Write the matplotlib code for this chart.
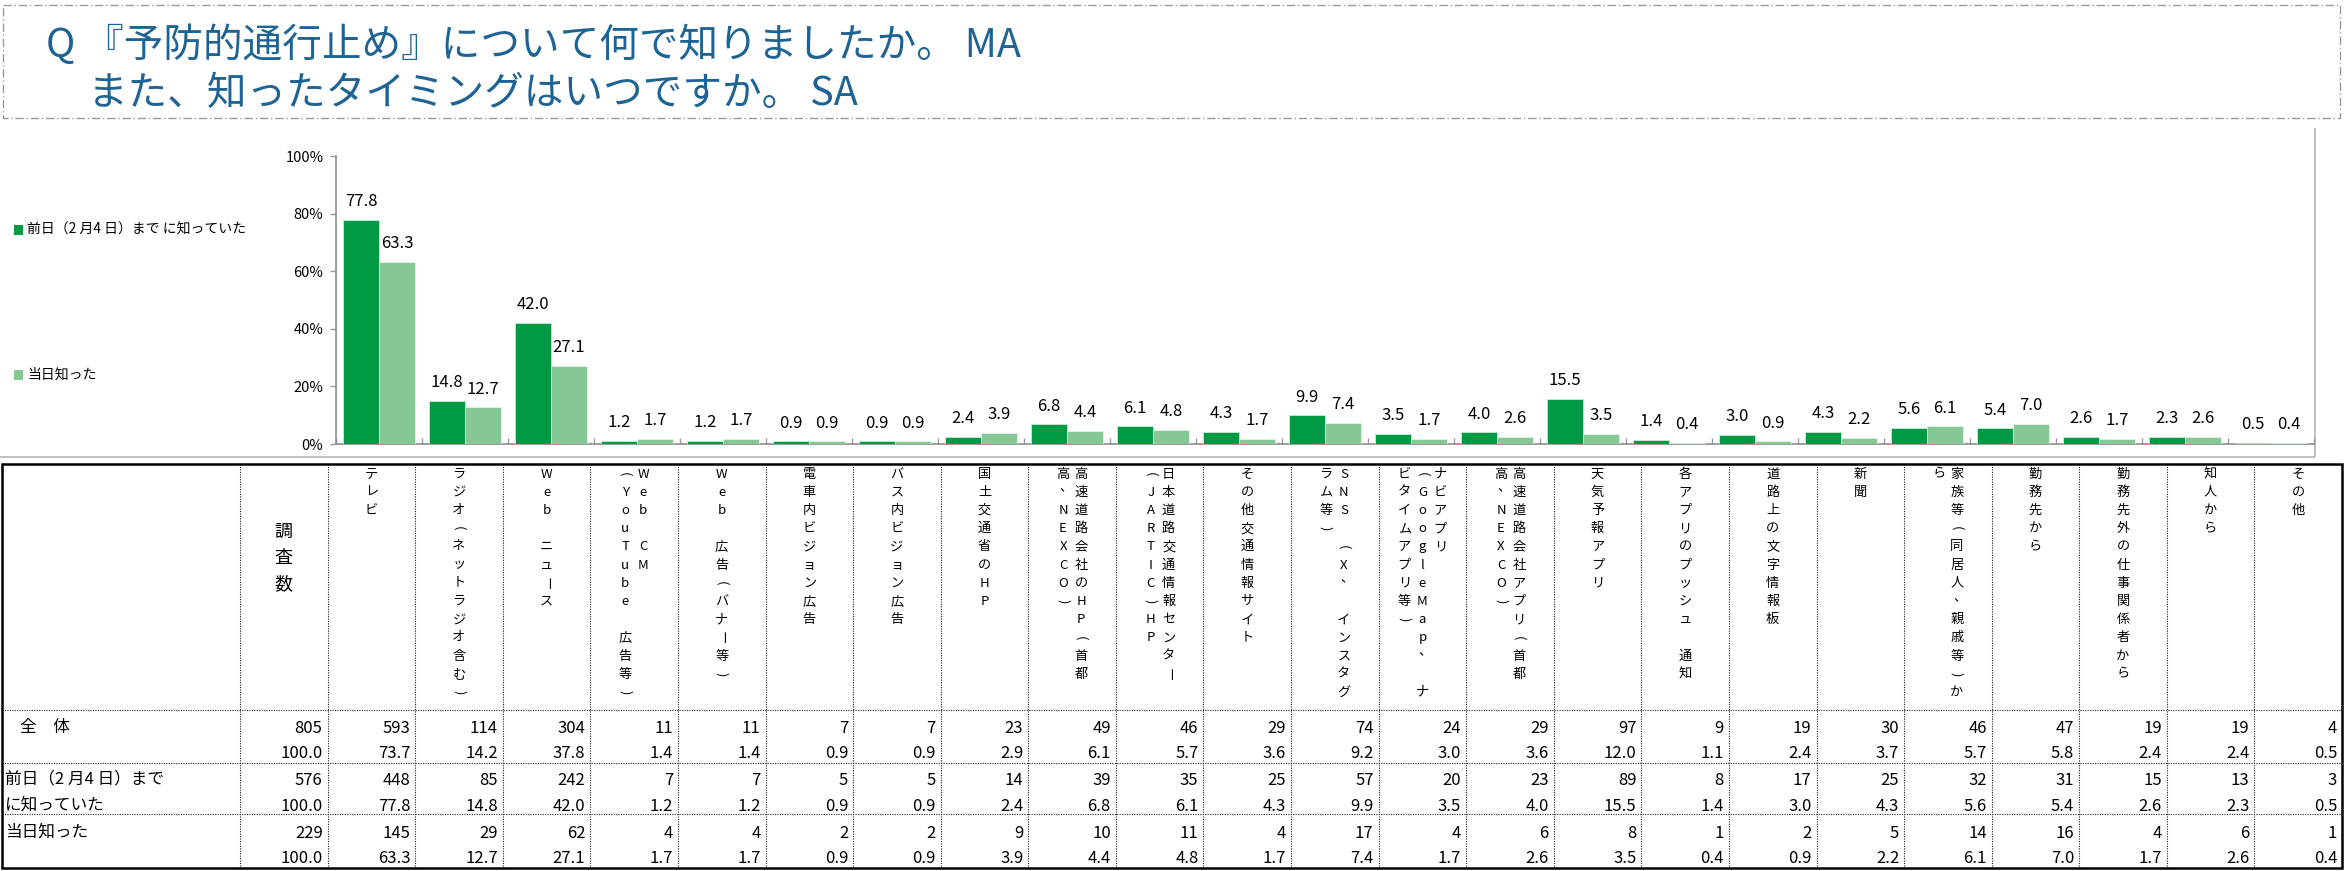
import matplotlib
matplotlib.use('Agg')
import matplotlib.pyplot as plt
from matplotlib.patches import Rectangle
import numpy as np

plt.rcParams['font.family'] = ['Noto Sans CJK JP', 'DejaVu Sans']

W, H = 2347, 871
TITLE_COLOR = '#1d6394'
DARK = '#009a44'
LIGHT = '#86c796'

# ---- data ----
title_lines = ['Q 『予防的通行止め』について何で知りましたか。 MA',
               'また、知ったタイミングはいつですか。 SA']
legend_labels = ['前日（2 月4 日）まで に知っていた', '当日知った']

# header text of each column, one string per vertical line (right to left)
headers = [
    ['テレビ'],
    ['ラジオ（ネットラジオ含む）'],
    ['Web　ニュース'],
    ['Web　CM', '（YouTube　広告等）'],
    ['Web　広告（バナー等）'],
    ['電車内ビジョン広告'],
    ['バス内ビジョン広告'],
    ['国土交通省のHP'],
    ['高速道路会社のHP（首都', '高、NEXCO）'],
    ['日本道路交通情報センター', '（JARTIC）HP'],
    ['その他交通情報サイト'],
    ['SNS　（X、　インスタグ', 'ラム等）'],
    ['ナビアプリ', '（GoogleMap、　ナ', 'ビタイムアプリ等）'],
    ['高速道路会社アプリ（首都', '高、NEXCO）'],
    ['天気予報アプリ'],
    ['各アプリのプッシュ　通知'],
    ['道路上の文字情報板'],
    ['新聞'],
    ['家族等（同居人、親戚等）か', 'ら'],
    ['勤務先から'],
    ['勤務先外の仕事関係者から'],
    ['知人から'],
    ['その他'],
]
base_label = '調査数'
row_labels = [['全　体'], ['前日（2 月4 日）まで', 'に知っていた'], ['当日知った']]
base_n = [805, 576, 229]

total_n = [593, 114, 304, 11, 11, 7, 7, 23, 49, 46, 29, 74, 24, 29, 97, 9, 19, 30, 46, 47, 19, 19, 4]
total_pct = [73.7, 14.2, 37.8, 1.4, 1.4, 0.9, 0.9, 2.9, 6.1, 5.7, 3.6, 9.2, 3.0, 3.6, 12.0,
             1.1, 2.4, 3.7, 5.7, 5.8, 2.4, 2.4, 0.5]
before_n = [448, 85, 242, 7, 7, 5, 5, 14, 39, 35, 25, 57, 20, 23, 89, 8, 17, 25, 32, 31, 15, 13, 3]
before_pct = [77.8, 14.8, 42.0, 1.2, 1.2, 0.9, 0.9, 2.4, 6.8, 6.1, 4.3, 9.9, 3.5, 4.0, 15.5,
              1.4, 3.0, 4.3, 5.6, 5.4, 2.6, 2.3, 0.5]
today_n = [145, 29, 62, 4, 4, 2, 2, 9, 10, 11, 4, 17, 4, 6, 8, 1, 2, 5, 14, 16, 4, 6, 1]
today_pct = [63.3, 12.7, 27.1, 1.7, 1.7, 0.9, 0.9, 3.9, 4.4, 4.8, 1.7, 7.4, 1.7, 2.6, 3.5,
             0.4, 0.9, 2.2, 6.1, 7.0, 1.7, 2.6, 0.4]
yticks = [0, 20, 40, 60, 80, 100]

fig = plt.figure(figsize=(W / 100, H / 100), dpi=100)

# background axes in pixel coordinates (y down)
bg = fig.add_axes([0, 0, 1, 1])
bg.set_xlim(0, W); bg.set_ylim(H, 0); bg.axis('off')


def line(x0, y0, x1, y1, **kw):
    bg.plot([x0, x1], [y0, y1], solid_capstyle='butt', clip_on=False, **kw)


# ---- title box ----
bg.add_patch(Rectangle((3, 5), 2337, 113, fill=False, ec='#9a9a9a', lw=1.0,
                       ls=(0, (6, 2, 1, 2))))
bg.text(46, 46, title_lines[0], fontsize=28.5, color=TITLE_COLOR, va='center', ha='left')
bg.text(88, 94, title_lines[1], fontsize=28.5, color=TITLE_COLOR, va='center', ha='left')

# ---- chart object frame ----
line(0, 457, 2315, 457, color='#b4b4b4', lw=1.2)
line(2315, 128, 2315, 457, color='#b4b4b4', lw=1.2)

# ---- legend ----
for (ly, lab, col) in [(230, legend_labels[0], DARK), (375, legend_labels[1], LIGHT)]:
    bg.add_patch(Rectangle((14, ly - 5), 9, 10, fc=col, ec='none'))
    bg.text(27, ly, lab, fontsize=10, va='center', ha='left')

# ---- bar chart ----
x0, x1, y0, y1 = 336, 2314, 444, 156
ax = fig.add_axes([x0 / W, 1 - y0 / H, (x1 - x0) / W, (y0 - y1) / H])
ax.patch.set_alpha(0)
x = np.arange(len(headers))
bw = 0.42
ax.bar(x - bw / 2, before_pct, bw, color=DARK, ec='#cfe9d6', lw=0.6, zorder=3)
ax.bar(x + bw / 2, today_pct, bw, color=LIGHT, ec='#e3f2e6', lw=0.6, zorder=3)
for xi, v in zip(x - bw / 2, before_pct):
    ax.annotate(f'{v:.1f}', (xi, v), xytext=(0, 10), textcoords='offset points',
                ha='center', va='baseline', fontsize=12)
for xi, v in zip(x + bw / 2, today_pct):
    ax.annotate(f'{v:.1f}', (xi, v), xytext=(0, 10), textcoords='offset points',
                ha='center', va='baseline', fontsize=12)
ax.set_xlim(-0.5, len(headers) - 0.5)
ax.set_ylim(0, 100)
ax.set_yticks(yticks)
ax.set_yticklabels([f'{t}%' for t in yticks], fontsize=10.5)
ax.set_xticks([])
ax.set_xticks(np.arange(-0.5, len(headers)), minor=True)
ax.tick_params(axis='x', which='minor', direction='in', length=4, color='#9a9a9a', width=1)
ax.tick_params(axis='y', direction='out', length=4, color='#9a9a9a', width=1, pad=5)
for s in ['top', 'right']:
    ax.spines[s].set_visible(False)
for s in ['left', 'bottom']:
    ax.spines[s].set_color('#8c8c8c')
    ax.spines[s].set_linewidth(1.2)

# ---- table ----
T_TOP, T_HEAD, T_BOT = 464, 710, 868
T_LEFT, T_RIGHT = 2, 2342
LAB_R, BASE_R = 240, 327.6
cw = (T_RIGHT - BASE_R) / len(headers)
row_seps = [763, 814]
y_n = [727, 779, 832]
y_p = [752, 805, 857]
dot = dict(color='#222222', lw=0.8, ls=(0, (1, 1.2)))

line(T_LEFT, T_HEAD, T_RIGHT, T_HEAD, **dot)
for ys in row_seps:
    line(T_LEFT, ys, T_RIGHT, ys, **dot)
col_edges = [LAB_R, BASE_R] + [BASE_R + cw * (i + 1) for i in range(len(headers) - 1)]
for xe in col_edges:
    line(xe, T_TOP, xe, T_BOT, **dot)
bg.add_patch(Rectangle((T_LEFT, T_TOP), T_RIGHT - T_LEFT, T_BOT - T_TOP,
                       fill=False, ec='black', lw=1.8, zorder=5))

# base column header
for k, ch in enumerate(base_label):
    bg.text((LAB_R + BASE_R) / 2, 532 + k * 26, ch, fontsize=13, ha='center', va='center')

# vertical header text: brackets and long vowel mark are turned upright-to-vertical
turn = {'（': '(', '）': ')', 'ー': 'ー'}
for i, cols in enumerate(headers):
    cx = BASE_R + cw * (i + 0.5)
    n = len(cols)
    for j, s in enumerate(cols):
        xc = cx + (n - 1) / 2 * 18 - j * 18
        for k, ch in enumerate(s):
            if ch == '　':
                continue
            yc = 474 + k * 18.2
            if ch == '、':
                bg.text(xc + 3, yc - 4, ch, fontsize=9.5, ha='center', va='center')
            elif ch in turn:
                bg.text(xc, yc, turn[ch], fontsize=9.5, ha='center', va='center',
                        rotation=-90, rotation_mode='anchor')
            else:
                bg.text(xc, yc, ch, fontsize=9.5, ha='center', va='center')

# row labels
bg.text(20, y_n[0], row_labels[0][0], fontsize=12, va='center', ha='left')
bg.text(5, y_n[1], row_labels[1][0], fontsize=12, va='center', ha='left')
bg.text(5, y_p[1], row_labels[1][1], fontsize=12, va='center', ha='left')
bg.text(5, y_n[2], row_labels[2][0], fontsize=12, va='center', ha='left')

# numbers
rows_n = [total_n, before_n, today_n]
rows_p = [total_pct, before_pct, today_pct]
for r in range(3):
    bg.text(BASE_R - 5, y_n[r] + 6, f'{base_n[r]}', fontsize=12, ha='right', va='baseline')
    bg.text(BASE_R - 5, y_p[r] + 6, '100.0', fontsize=12, ha='right', va='baseline')
    for i in range(len(headers)):
        xr = BASE_R + cw * (i + 1) - 5
        bg.text(xr, y_n[r] + 6, f'{rows_n[r][i]}', fontsize=12, ha='right', va='baseline')
        bg.text(xr, y_p[r] + 6, f'{rows_p[r][i]:.1f}', fontsize=12, ha='right', va='baseline')

fig.savefig('out.png', dpi=100)
